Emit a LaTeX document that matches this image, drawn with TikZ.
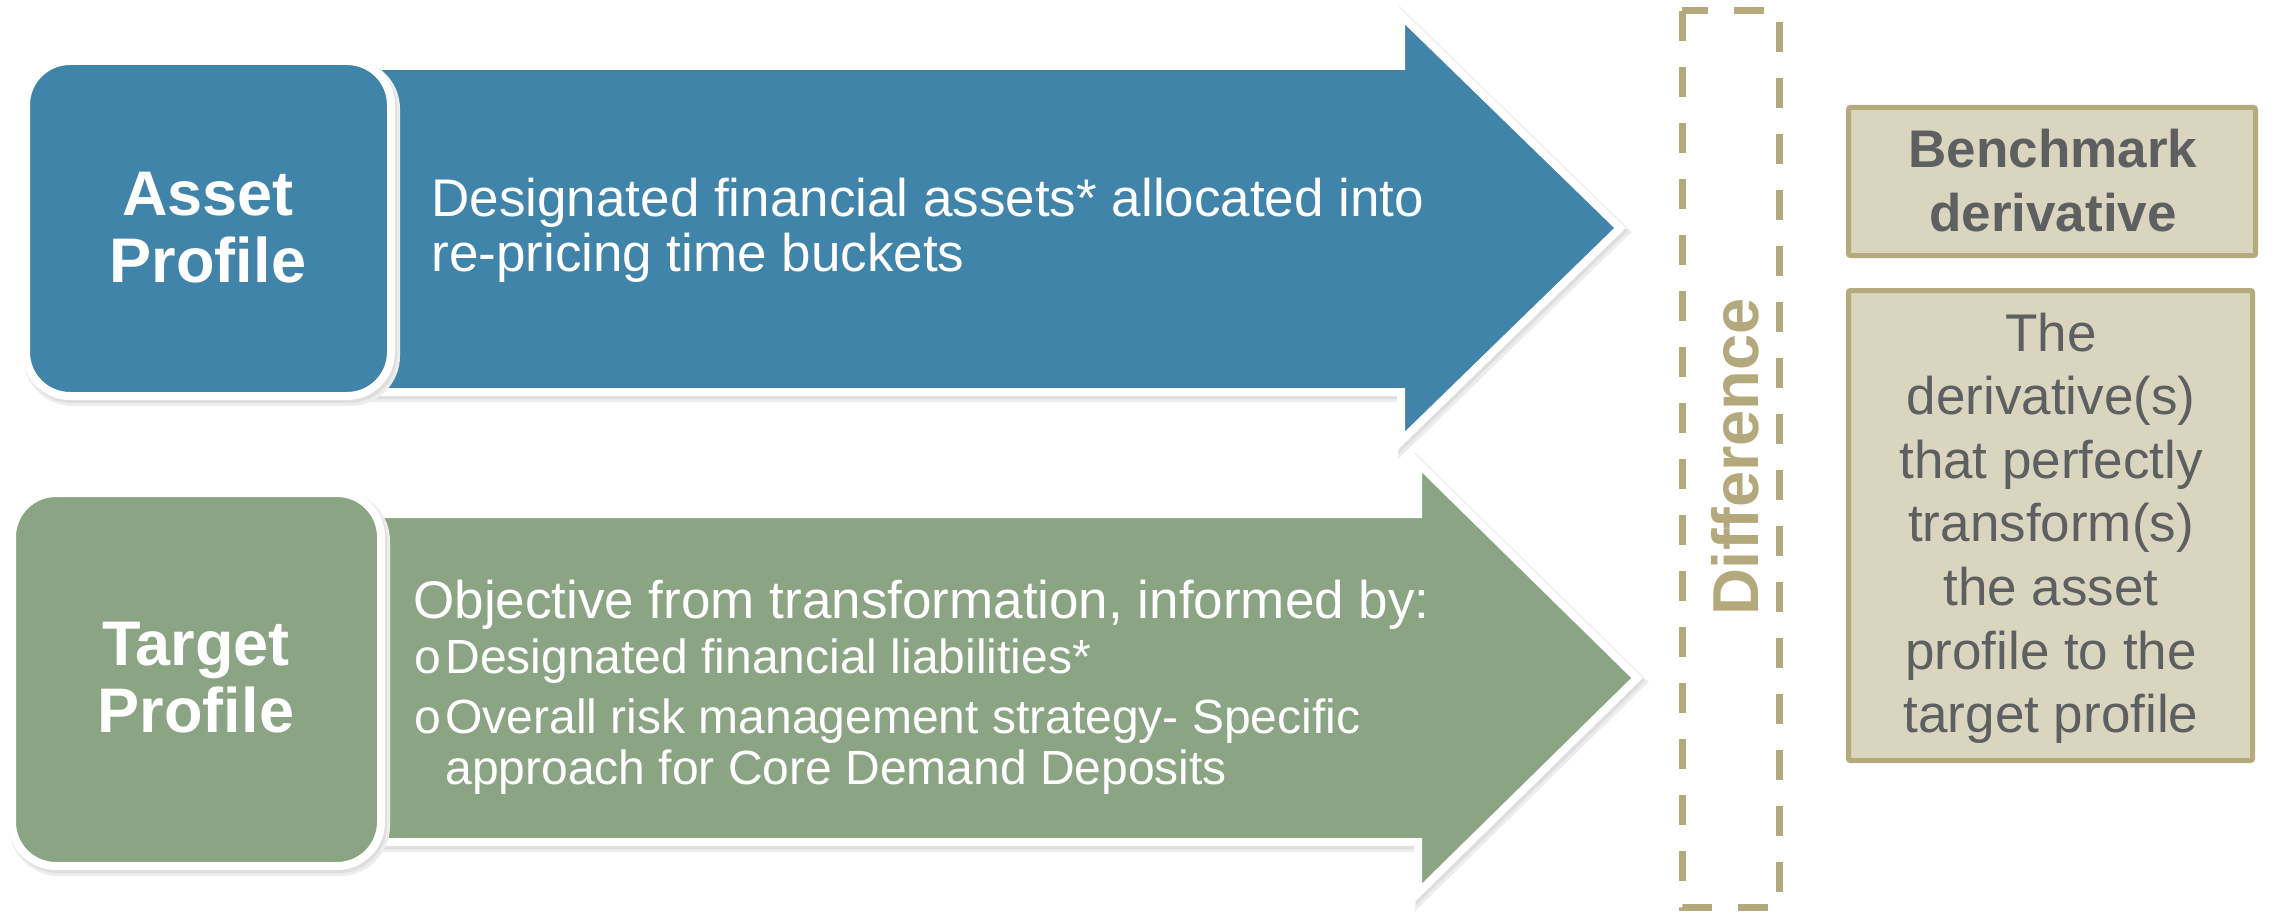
\documentclass[tikz,border=0pt]{standalone}
\usepackage{fontspec}
\setmainfont{Liberation Sans}
\newfontfamily\bulletfont{Liberation Mono}
\definecolor{assetblue}{HTML}{4184A9}
\definecolor{targetgreen}{HTML}{8BA483}
\definecolor{tandash}{HTML}{B4A97C}
\definecolor{tanfill}{HTML}{D9D5BF}
\definecolor{tanborder}{HTML}{B5AA7B}
\definecolor{graytext}{HTML}{5D5F61}
\newcommand\bluepath{(370,66) -- (1401,66) -- (1401,15) -- (1620,228) -- (1401,441) -- (1401,392) -- (370,392) -- cycle}
\newcommand\greenpath{(360,514) -- (1418,514) -- (1418,463) -- (1637,678) -- (1418,893) -- (1418,842) -- (360,842) -- cycle}
\newcommand\assetpath{(26,61) rectangle (391,396)}
\newcommand\targetpath{(12,493) rectangle (381,866)}
\begin{document}
\begin{tikzpicture}[x=0.5pt,y=-0.5pt,
  softshadow/.style={draw=black!7,fill=black!7,line width=6pt,shift={(3,4)}},
  hardshadow/.style={draw=black!13,fill=black!13,line width=4pt,shift={(2,3)}},
  whiteedge/.style={draw=white,line width=4pt},
  dashbox/.style={draw=tandash,line width=3.5pt,dash pattern=on 15pt off 13pt},
  derivbox/.style={draw=tanborder,fill=tanfill,line width=2.5pt,rounded corners=1pt},
  lbl/.style={inner sep=0pt,text=white,font=\fontsize{31.5}{31.5}\selectfont\bfseries},
  bodytxt/.style={inner sep=0pt,text=white,font=\fontsize{26.5}{26.5}\selectfont},
  bullettxt/.style={inner sep=0pt,text=white,font=\fontsize{24}{24}\selectfont},
  bulletmark/.style={inner sep=0pt,text=white,font=\fontsize{24}{24}\bulletfont},
  difftxt/.style={inner sep=0pt,text=tandash,font=\fontsize{32.5}{32.5}\selectfont\bfseries},
  bmtxt/.style={inner sep=0pt,text=graytext,font=\fontsize{26.5}{26.5}\selectfont\bfseries},
  desctxt/.style={inner sep=0pt,text=graytext,font=\fontsize{26.5}{26.5}\selectfont}]
\useasboundingbox (0,0) rectangle (2272,915);
\fill[white] (0,0) rectangle (2272,915);

% dashed "Difference" frame
\draw[dashbox] (1682,11) rectangle (1779,907);

% arrows
\path[softshadow] \bluepath;
\path[hardshadow] \bluepath;
\fill[assetblue] \bluepath;
\draw[whiteedge] \bluepath;

\path[softshadow] \greenpath;
\path[hardshadow] \greenpath;
\fill[targetgreen] \greenpath;
\draw[whiteedge] \greenpath;

% rounded profile boxes
\path[softshadow,rounded corners=22pt] \assetpath;
\path[hardshadow,rounded corners=22pt] \assetpath;
\fill[assetblue,rounded corners=22pt] \assetpath;
\draw[whiteedge,rounded corners=22pt] \assetpath;

\path[softshadow,rounded corners=22pt] \targetpath;
\path[hardshadow,rounded corners=22pt] \targetpath;
\fill[targetgreen,rounded corners=22pt] \targetpath;
\draw[whiteedge,rounded corners=22pt] \targetpath;

% right boxes
\draw[derivbox] (1848.5,107.5) rectangle (2255.5,255.5);
\draw[derivbox] (1848.5,290.5) rectangle (2252.5,760.5);

% texts
\node[lbl,anchor=base] (asset1) at (208,215) {Asset};
\node[lbl,anchor=base] (asset2) at (208,282) {Profile};
\node[lbl,anchor=base] (target1) at (196,665) {Target};
\node[lbl,anchor=base] (target2) at (196,732) {Profile};

\node[bodytxt,anchor=base west] (blue1) at (431,217) {Designated financial assets* allocated into};
\node[bodytxt,anchor=base west] (blue2) at (431,271) {re-pricing time buckets};

\node[bodytxt,anchor=base west] (green1) at (413,618) {Objective from transformation, informed by:};
\node[bulletmark,anchor=base west] (bul1) at (413,673) {o};
\node[bullettxt,anchor=base west] (green2) at (445,673) {Designated financial liabilities*};
\node[bulletmark,anchor=base west] (bul2) at (413,733) {o};
\node[bullettxt,anchor=base west] (green3) at (445,733) {Overall risk management strategy- Specific};
\node[bullettxt,anchor=base west] (green4) at (445,784) {approach for Core Demand Deposits};

\node[difftxt,rotate=90,anchor=base] (diff) at (1758,457) {Difference};

\node[bmtxt,anchor=base] (bm1) at (2053,168) {Benchmark};
\node[bmtxt,anchor=base] (bm2) at (2053,232) {derivative};

\node[desctxt,anchor=base] (d1) at (2051,351) {The};
\node[desctxt,anchor=base] (d2) at (2051,414.6) {derivative(s)};
\node[desctxt,anchor=base] (d3) at (2051,478) {that perfectly};
\node[desctxt,anchor=base] (d4) at (2051,541.8) {transform(s)};
\node[desctxt,anchor=base] (d5) at (2051,605.4) {the asset};
\node[desctxt,anchor=base] (d6) at (2051,669) {profile to the};
\node[desctxt,anchor=base] (d7) at (2051,732.6) {target profile};
\end{tikzpicture}
\end{document}
